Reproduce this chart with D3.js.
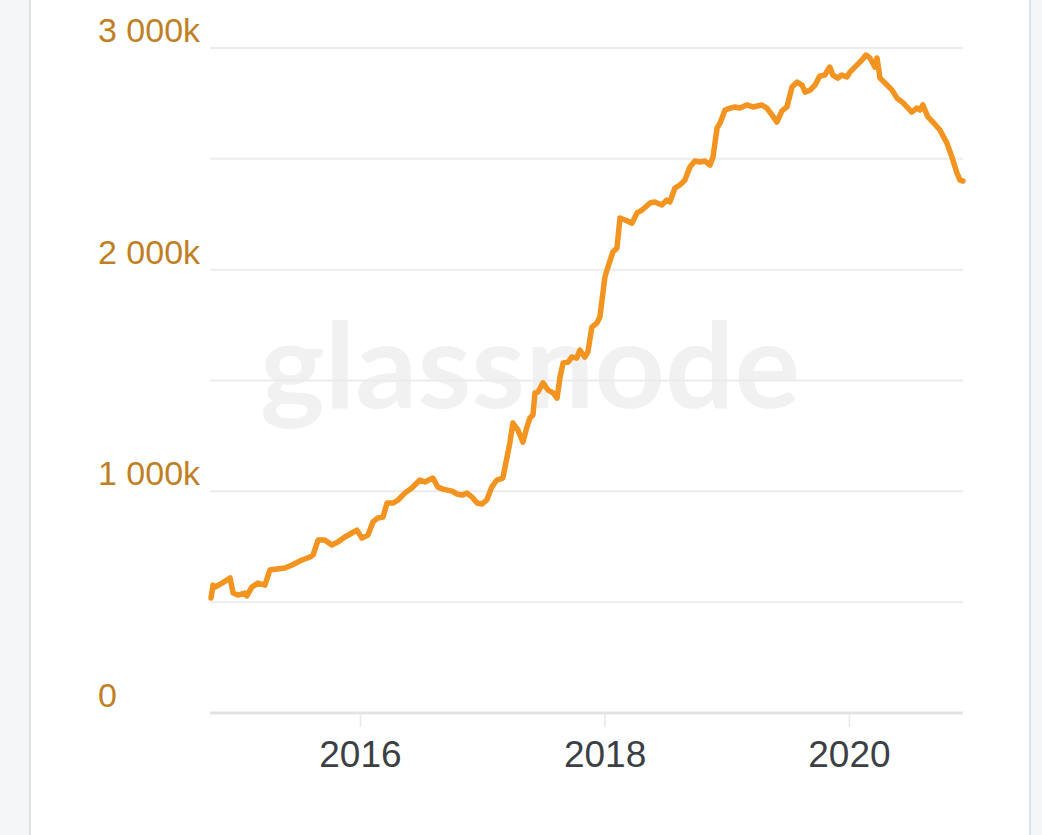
<!DOCTYPE html>
<html>
<head>
<meta charset="utf-8">
<script src="https://cdn.jsdelivr.net/npm/d3@7"></script>
<style>
  html, body { margin: 0; padding: 0; background: #f4f6f7; }
  svg { display: block; }
</style>
</head>
<body>
<svg id="chart" width="1042" height="835"></svg>
<script>
// ---- data (values in thousands) ----
const dates = [
  "2014-10-13","2014-10-19","2014-10-25","2014-11-15","2014-12-09","2014-12-18","2015-01-01","2015-01-22","2015-01-28","2015-02-12",
  "2015-03-02","2015-03-23","2015-04-07","2015-04-28","2015-05-22","2015-06-12","2015-07-12","2015-08-05","2015-08-14","2015-08-29",
  "2015-09-18","2015-10-09","2015-10-27","2015-11-17","2015-12-08","2015-12-23","2016-01-07","2016-01-25","2016-02-09","2016-02-24",
  "2016-03-10","2016-03-22","2016-04-09","2016-04-24","2016-05-14","2016-06-04","2016-06-28","2016-07-13","2016-08-06","2016-08-21",
  "2016-09-05","2016-10-02","2016-10-17","2016-11-01","2016-11-16","2016-12-01","2016-12-16","2016-12-31","2017-01-14","2017-01-29",
  "2017-02-13","2017-03-03","2017-03-15","2017-03-24","2017-04-02","2017-04-17","2017-05-02","2017-05-14","2017-05-23","2017-06-01",
  "2017-06-07","2017-06-16","2017-07-01","2017-07-16","2017-07-31","2017-08-12","2017-08-21","2017-08-30","2017-09-14","2017-09-25",
  "2017-10-10","2017-10-19","2017-11-03","2017-11-12","2017-11-24","2017-12-09","2017-12-18","2018-01-02","2018-01-11","2018-01-26",
  "2018-02-07","2018-02-16","2018-03-03","2018-03-24","2018-04-08","2018-04-23","2018-05-17","2018-05-31","2018-06-21","2018-07-06",
  "2018-07-15","2018-07-30","2018-08-14","2018-08-29","2018-09-13","2018-09-28","2018-10-13","2018-10-28","2018-11-12","2018-11-21",
  "2018-12-03","2018-12-12","2018-12-27","2019-01-11","2019-01-26","2019-02-09","2019-03-02","2019-03-20","2019-04-16","2019-05-01",
  "2019-05-16","2019-05-31","2019-06-15","2019-06-30","2019-07-15","2019-07-30","2019-08-14","2019-08-23","2019-09-07","2019-09-22",
  "2019-10-06","2019-10-21","2019-11-05","2019-11-14","2019-11-29","2019-12-11","2019-12-26","2020-01-04","2020-01-25","2020-02-09",
  "2020-02-21","2020-03-04","2020-03-19","2020-03-25","2020-04-03","2020-04-18","2020-05-09","2020-05-24","2020-06-11","2020-07-07",
  "2020-07-22","2020-07-31","2020-08-09","2020-08-24","2020-09-08","2020-09-29","2020-10-20","2020-11-04","2020-11-19","2020-11-28",
  "2020-12-07"
];
const values = [
  519,577,568,586,609,541,532,541,528,568,
  586,577,645,650,654,668,690,704,713,780,
  780,758,771,794,812,825,789,803,862,880,
  884,947,947,961,992,1015,1051,1042,1060,1019,
  1010,1001,988,983,992,974,947,943,961,1019,
  1051,1060,1150,1218,1308,1277,1222,1290,1331,1344,
  1444,1448,1489,1457,1444,1421,1516,1579,1583,1606,
  1601,1637,1606,1628,1741,1759,1786,1967,2012,2080,
  2098,2233,2224,2210,2256,2269,2301,2305,2292,2314,
  2305,2368,2382,2404,2463,2490,2486,2490,2472,2508,
  2639,2661,2720,2729,2734,2729,2743,2734,2743,2729,
  2698,2666,2716,2734,2824,2846,2833,2801,2810,2833,
  2873,2878,2914,2878,2864,2878,2869,2891,2923,2946,
  2968,2955,2914,2955,2864,2842,2810,2774,2752,2711,
  2729,2720,2743,2689,2666,2630,2571,2508,2436,2404,
  2400
];
const yTickValues = [0, 1000, 2000, 3000];
const yTickLabels = ["0", "1 000k", "2 000k", "3 000k"];
const yGridValues = [500, 1000, 1500, 2000, 2500, 3000];
const xTickLabels = ["2016", "2018", "2020"];
const watermark = "glassnode";

// ---- layout ----
const svg = d3.select("#chart");
const parse = d3.timeParse("%Y-%m-%d");
const data = dates.map((d, i) => ({ date: parse(d), value: values[i] }));

svg.append("rect").attr("x", 31).attr("y", 0).attr("width", 998).attr("height", 835).attr("fill", "#ffffff");
svg.append("line").attr("x1", 30).attr("x2", 30).attr("y1", 0).attr("y2", 835).attr("stroke", "#dde2e5").attr("stroke-width", 2);
svg.append("line").attr("x1", 1030).attr("x2", 1030).attr("y1", 0).attr("y2", 835).attr("stroke", "#dde2e5").attr("stroke-width", 2);

const x = d3.scaleTime()
  .domain([data[0].date, data[data.length - 1].date])
  .range([211, 963]);
const y = d3.scaleLinear().domain([0, 3000]).range([713, 48]);

// watermark
svg.append("text")
  .attr("x", 530).attr("y", 408)
  .attr("text-anchor", "middle")
  .attr("font-family", "Lato, 'Open Sans', sans-serif")
  .attr("font-weight", 700)
  .attr("font-size", 118)
  .attr("textLength", 540)
  .attr("lengthAdjust", "spacingAndGlyphs")
  .attr("fill", "#f1f1f1")
  .text(watermark);

// grid lines
svg.append("g").selectAll("line").data(yGridValues).join("line")
  .attr("x1", 210).attr("x2", 963)
  .attr("y1", d => y(d)).attr("y2", d => y(d))
  .attr("stroke", "#ececec").attr("stroke-width", 2);

// y labels
svg.append("g").selectAll("text").data(yTickValues).join("text")
  .attr("x", 98).attr("y", d => y(d) - 6)
  .attr("font-family", "'Liberation Sans', Arial, sans-serif")
  .attr("font-size", 34)
  .attr("fill", "#c07f25")
  .text((d, i) => yTickLabels[i]);

// x axis
const xTicks = xTickLabels.map(s => parse(s + "-01-01"));
const xAxis = d3.axisBottom(x).tickValues(xTicks).tickFormat((d, i) => xTickLabels[i]).tickSize(14).tickPadding(14);
const gx = svg.append("g").attr("transform", "translate(0,713)").call(xAxis);
gx.select(".domain").attr("stroke", "#e3e3e3").attr("stroke-width", 3).attr("d", "M210,0H963");
gx.selectAll(".tick line").attr("stroke", "#e8e8e8").attr("stroke-width", 1.5);
gx.selectAll(".tick text")
  .attr("font-family", "'Liberation Sans', Arial, sans-serif")
  .attr("font-size", 37)
  .attr("fill", "#3c3f44");

// line
const line = d3.line().x(d => x(d.date)).y(d => y(d.value)).curve(d3.curveLinear);
svg.append("path").datum(data)
  .attr("d", line)
  .attr("fill", "none")
  .attr("stroke", "#f39320")
  .attr("stroke-width", 5.5)
  .attr("stroke-linejoin", "round")
  .attr("stroke-linecap", "round");
</script>
</body>
</html>
